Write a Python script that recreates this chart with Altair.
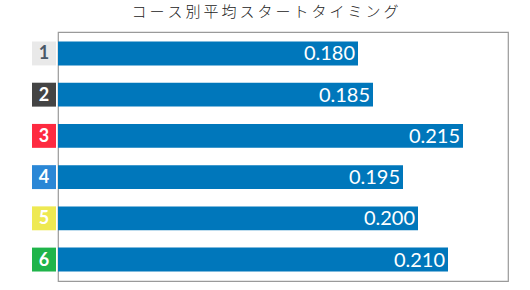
import altair as alt
import pandas as pd

courses = ["1", "2", "3", "4", "5", "6"]
values = [0.180, 0.185, 0.215, 0.195, 0.200, 0.210]
labels = ["0.180", "0.185", "0.215", "0.195", "0.200", "0.210"]
box_colors = ["#e9e9e9", "#444444", "#fe2a40", "#2a87d6", "#eee952", "#1fb44a"]
num_colors = ["#4a5868", "#ffffff", "#ffffff", "#ffffff", "#ffffff", "#ffffff"]
title_text = "コース別平均スタートタイミング"
x_min, x_max = 0.08, 0.23

df = pd.DataFrame({"course": courses, "value": values, "label": labels,
                   "box": box_colors, "numc": num_colors})

y = alt.Y("course:N", sort=courses, axis=None,
          scale=alt.Scale(paddingInner=0.42, paddingOuter=0.23))
xs = alt.Scale(domain=[x_min, x_max], zero=False, nice=False)

bars = alt.Chart(df).mark_bar(color="#0077bb").encode(
    x=alt.X("value:Q", scale=xs, axis=None),
    x2=alt.datum(x_min),
    y=y,
)

vals = alt.Chart(df).mark_text(align="right", baseline="middle", dx=-3, dy=1,
                               color="white", fontSize=20, font="Lato").encode(
    x=alt.X("value:Q", scale=xs, axis=None),
    y=y,
    text="label:N",
)

boxes = alt.Chart(df).mark_rect().encode(
    x=alt.value(-26), x2=alt.value(-2),
    y=y,
    color=alt.Color("box:N", scale=None),
)

nums = alt.Chart(df).mark_text(align="center", baseline="middle", dy=1,
                               fontSize=18, font="Lato", fontWeight="bold").encode(
    x=alt.value(-14),
    y=y,
    text="course:N",
    color=alt.Color("numc:N", scale=None),
)

title = "\u2009".join(list(title_text))

chart = alt.layer(bars, vals, boxes, nums).properties(
    width=450, height=249,
    padding={"left": 58, "top": 32, "right": 22, "bottom": 9},
    autosize=alt.AutoSizeParams(type="none"),
    title=alt.TitleParams(title, anchor="middle", dx=-18, offset=12,
                          fontSize=15, font="Noto Sans CJK JP", fontWeight=300,
                          color="#222222"),
).configure_view(stroke="#9a9a9a", strokeWidth=1.2)

chart.save("out.html", embed_options={"renderer": "svg", "actions": False})
